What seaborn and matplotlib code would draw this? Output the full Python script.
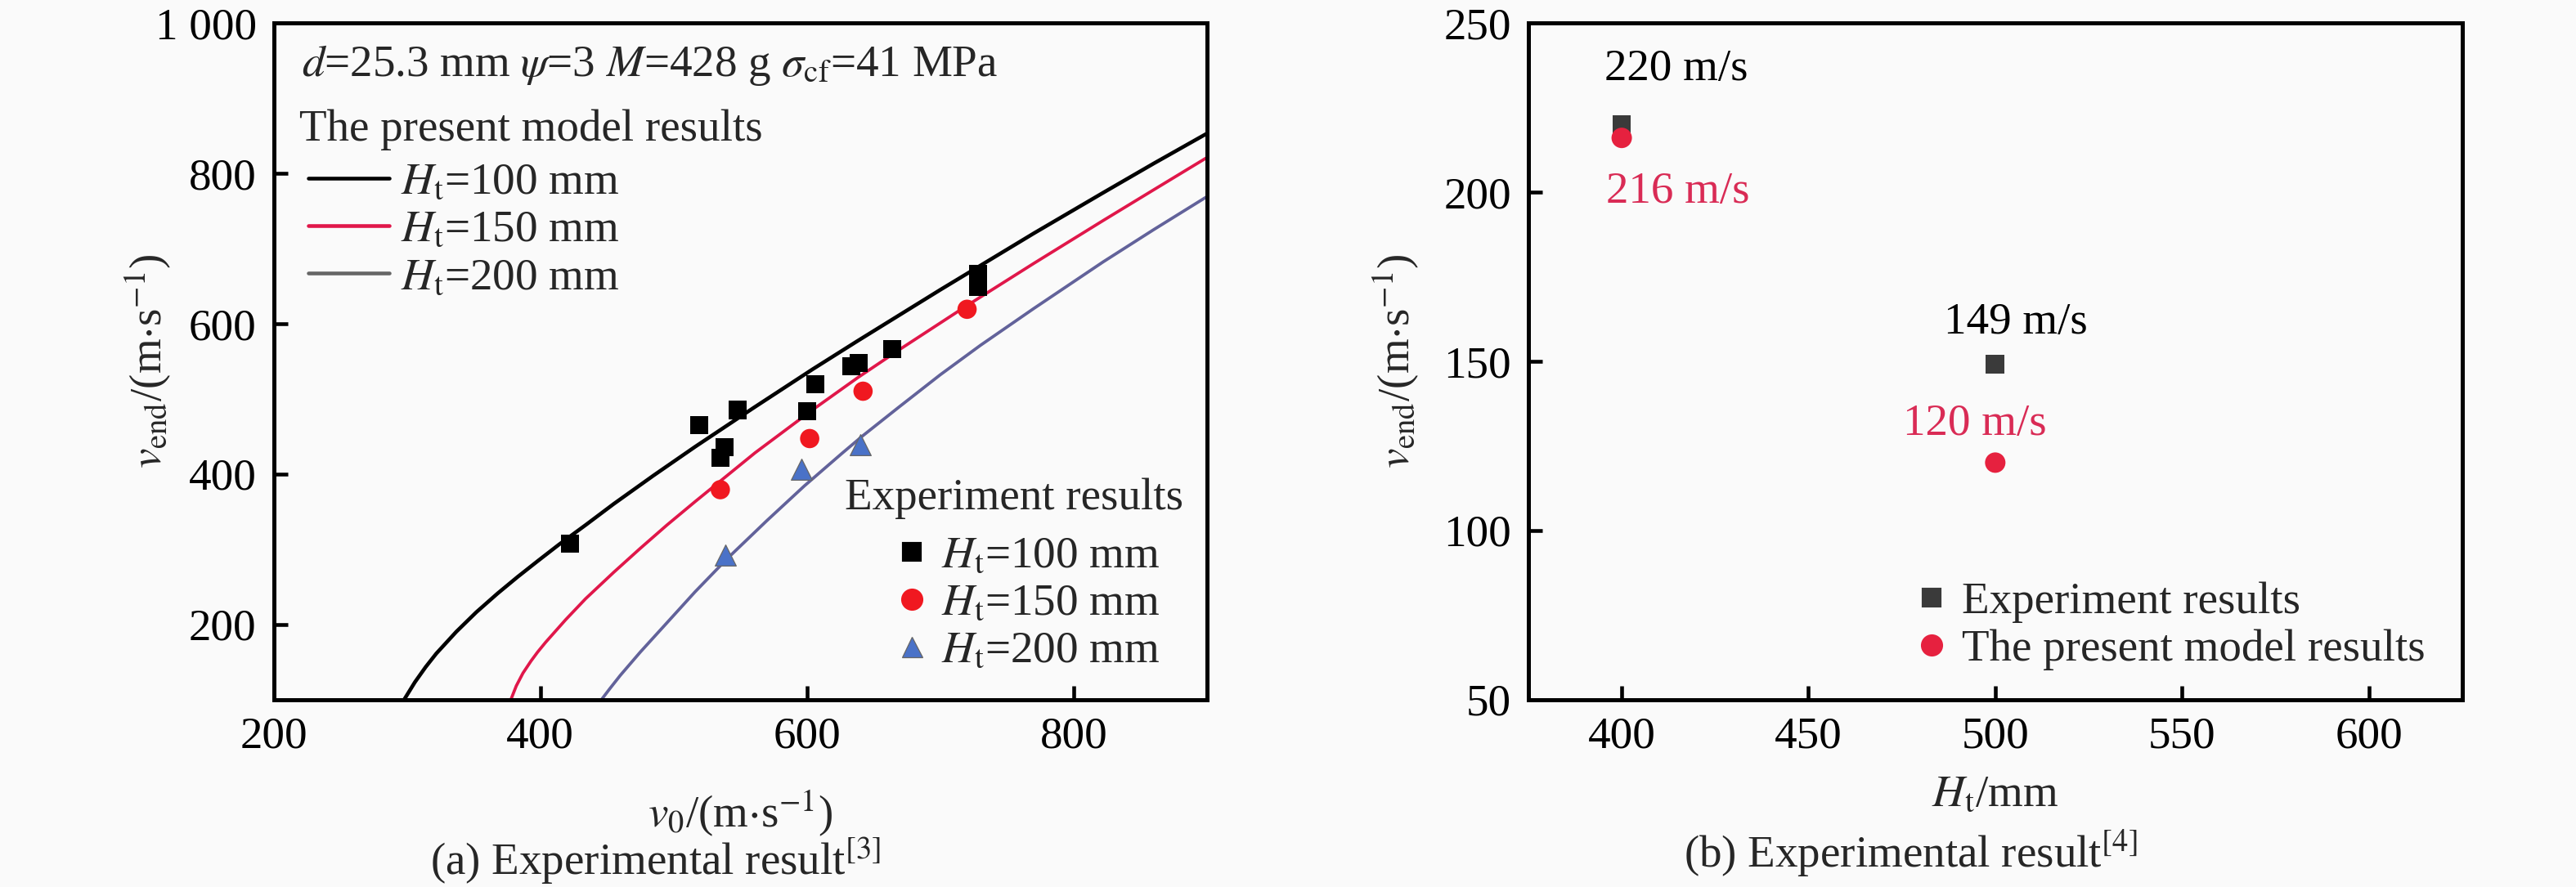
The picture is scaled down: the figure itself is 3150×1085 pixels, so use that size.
import matplotlib
matplotlib.use('Agg')
import matplotlib.pyplot as plt
from matplotlib.lines import Line2D
import seaborn as sns
import numpy as np

# (a) model curves
v0_100 = [298, 306, 314, 322, 337, 352, 368, 383, 398, 414, 434, 455, 485, 516,
          560, 604, 638, 669, 700, 728, 770, 822, 860, 900]
vend_100 = [100, 123, 143, 161, 190, 216, 241, 263, 284, 306, 332, 360, 398, 436,
            488, 539, 577, 611, 645, 675, 720, 774, 813, 853]
v0_150 = [378, 382, 387, 393, 398, 404, 419, 434, 455, 475, 495, 516, 561, 604,
          638, 669, 720, 770, 822, 860, 900]
vend_150 = [100, 118, 135, 151, 163, 176, 206, 234, 269, 301, 332, 363, 428, 485,
            528, 565, 624, 680, 737, 778, 821]
v0_200 = [446, 452, 460, 475, 495, 516, 540, 570, 598, 626, 642, 669, 700, 730,
          770, 822, 860, 900]
vend_200 = [100, 114, 132, 163, 202, 243, 287, 338, 384, 427, 451, 489, 532, 571,
            620, 682, 725, 769]

# (a) experiment points
exp_v0_100 = [422, 519, 548, 538, 535, 606, 600, 633, 639, 664, 728, 728]
exp_vend_100 = [307, 465, 485, 436, 421, 519, 483, 543, 548, 566, 666, 649]
exp_v0_150 = [535, 602, 642, 720]
exp_vend_150 = [379, 447, 510, 619]
exp_v0_200 = [539, 596, 640]
exp_vend_200 = [292, 406, 439]

# (b)
ht_b = [400, 500]
vend_exp_b = [220, 149]
vend_model_b = [216, 120]

sns.set_theme(style='ticks')
plt.rcParams['font.family'] = ['Liberation Serif', 'DejaVu Serif']
plt.rcParams['font.serif'] = ['Liberation Serif', 'DejaVu Serif']
plt.rcParams['mathtext.fontset'] = 'stix'
fs = 13.2
plt.rcParams['font.size'] = fs
plt.rcParams['axes.linewidth'] = 1.2
plt.rcParams['axes.edgecolor'] = 'black'
plt.rcParams['xtick.direction'] = 'in'
plt.rcParams['ytick.direction'] = 'in'
plt.rcParams['xtick.major.size'] = 4
plt.rcParams['ytick.major.size'] = 4
plt.rcParams['xtick.major.width'] = 1.1
plt.rcParams['ytick.major.width'] = 1.1
plt.rcParams['xtick.labelsize'] = fs
plt.rcParams['ytick.labelsize'] = fs
plt.rcParams['xtick.color'] = 'black'
plt.rcParams['ytick.color'] = 'black'

bg = '#fafafa'
c_red_line = '#e0174a'
c_blue_line = '#62629a'

fig = plt.figure(figsize=(10.5, 1085 / 300), dpi=300, facecolor=bg)
ax1 = fig.add_axes([0.1062, 0.2115, 0.3624, 0.7627], facecolor=bg)
ax2 = fig.add_axes([0.5933, 0.2115, 0.3625, 0.7627], facecolor=bg)

# ---- (a) ----
sns.lineplot(x=v0_100, y=vend_100, ax=ax1, color='black', lw=1.1, sort=False, estimator=None)
sns.lineplot(x=v0_150, y=vend_150, ax=ax1, color=c_red_line, lw=0.9, sort=False, estimator=None)
sns.lineplot(x=v0_200, y=vend_200, ax=ax1, color=c_blue_line, lw=0.9, sort=False, estimator=None)
sns.scatterplot(x=exp_v0_100, y=exp_vend_100, ax=ax1, marker='s', s=28, color='black',
                edgecolor='none', zorder=3)
sns.scatterplot(x=exp_v0_150, y=exp_vend_150, ax=ax1, marker='o', s=32, color='#f01820',
                edgecolor='none', zorder=3)
sns.scatterplot(x=exp_v0_200, y=exp_vend_200, ax=ax1, marker='^', s=38, color='#4a72c8',
                edgecolor='#666666', linewidth=0.3, zorder=3)

ax1.set_xlim(200, 900)
ax1.set_ylim(100, 1000)
ax1.set_xticks([200, 400, 600, 800])
yt = [200, 400, 600, 800, 1000]
ax1.set_yticks(yt, ['{:,}'.format(v).replace(',', ' ') for v in yt])
ax1.tick_params(top=False, right=False, pad=5)
ax1.set_xlabel(r'$v_0$/(m$\cdot$s$^{-1}$)', fontsize=fs)
ax1.set_ylabel(r'$v_{\rm end}$/(m$\cdot$s$^{-1}$)', fontsize=fs)
ax1.xaxis.set_label_coords(0.5, -0.132)
ax1.yaxis.set_label_coords(-0.107, 0.5)

ax1.text(0.030, 0.921, r'$d$=25.3 mm $\psi$=3 $M$=428 g $\sigma_{\rm cf}$=41 MPa',
         transform=ax1.transAxes, fontsize=fs, va='baseline', ha='left')
ax1.text(0.028, 0.826, 'The present model results', transform=ax1.transAxes,
         fontsize=fs, va='baseline', ha='left')
model_handles = [Line2D([], [], color='black', lw=1.1),
                 Line2D([], [], color=c_red_line, lw=1.1),
                 Line2D([], [], color='#666666', lw=1.1)]
ht_labels = [r'$H_{\rm t}$=100 mm', r'$H_{\rm t}$=150 mm', r'$H_{\rm t}$=200 mm']
leg1 = ax1.legend(model_handles, ht_labels, loc='center left', bbox_to_anchor=(0.037, 0.693),
                  frameon=False, fontsize=fs, handlelength=1.8, handletextpad=0.25,
                  labelspacing=0.14, borderpad=0, borderaxespad=0)
ax1.add_artist(leg1)

ax1.text(0.612, 0.281, 'Experiment results', transform=ax1.transAxes,
         fontsize=fs, va='baseline', ha='left')
exp_handles = [Line2D([], [], marker='s', ls='none', color='black', markersize=5),
               Line2D([], [], marker='o', ls='none', color='#f01820', markersize=5.5),
               Line2D([], [], marker='^', ls='none', color='#4a72c8', markersize=6,
                      markeredgecolor='#666666', markeredgewidth=0.3)]
ax1.legend(exp_handles, ht_labels, loc='center left', bbox_to_anchor=(0.664, 0.141),
           frameon=False, fontsize=fs, handlelength=0.8, handletextpad=0.26,
           labelspacing=0.14, borderpad=0, borderaxespad=0)

# ---- (b) ----
c_exp_b = '#3a3a3a'
c_mod_b = '#e6213f'
c_txt_b = '#d92b55'
sns.scatterplot(x=ht_b, y=vend_exp_b, ax=ax2, marker='s', s=30, color=c_exp_b,
                edgecolor='none', zorder=3)
sns.scatterplot(x=ht_b, y=vend_model_b, ax=ax2, marker='o', s=36, color=c_mod_b,
                edgecolor='none', zorder=3)

offs_exp = [(16, 13), (6, 9)]
offs_mod = [(16.5, -19), (-6, 8.2)]
for x, v, o in zip(ht_b, vend_exp_b, offs_exp):
    ax2.annotate(f'{v} m/s', (x, v), xytext=o, textcoords='offset points',
                 ha='center', va='baseline', fontsize=fs, color='black')
for x, v, o in zip(ht_b, vend_model_b, offs_mod):
    ax2.annotate(f'{v} m/s', (x, v), xytext=o, textcoords='offset points',
                 ha='center', va='baseline', fontsize=fs, color=c_txt_b)

ax2.set_xlim(375, 625)
ax2.set_ylim(50, 250)
ax2.set_xticks([400, 450, 500, 550, 600])
ax2.set_yticks([50, 100, 150, 200, 250])
ax2.tick_params(top=False, right=False, pad=5)
ax2.set_xlabel(r'$H_{\rm t}$/mm', fontsize=fs)
ax2.set_ylabel(r'$v_{\rm end}$/(m$\cdot$s$^{-1}$)', fontsize=fs)
ax2.xaxis.set_label_coords(0.5, -0.111)
ax2.yaxis.set_label_coords(-0.115, 0.5)

b_handles = [Line2D([], [], marker='s', ls='none', color=c_exp_b, markersize=5),
             Line2D([], [], marker='o', ls='none', color=c_mod_b, markersize=5.5)]
ax2.legend(b_handles, ['Experiment results', 'The present model results'],
           loc='center left', bbox_to_anchor=(0.413, 0.108), frameon=False, fontsize=fs,
           handlelength=0.8, handletextpad=0.26, labelspacing=0.14, borderpad=0,
           borderaxespad=0)

for ax in (ax1, ax2):
    for sp in ax.spines.values():
        sp.set_visible(True)
        sp.set_color('black')
        sp.set_linewidth(1.2)
    for lab in ax.get_xticklabels() + ax.get_yticklabels():
        lab.set_fontfamily(['Liberation Serif', 'DejaVu Serif'])
        lab.set_fontsize(fs)

fig.text(0.167, 1 - 1070 / 1085, r'(a) Experimental result$^{[3]}$', fontsize=fs,
         ha='left', va='baseline')
fig.text(0.6537, 1 - 1061 / 1085, r'(b) Experimental result$^{[4]}$', fontsize=fs,
         ha='left', va='baseline')

fig.savefig('out.png', dpi=300, facecolor=bg)
